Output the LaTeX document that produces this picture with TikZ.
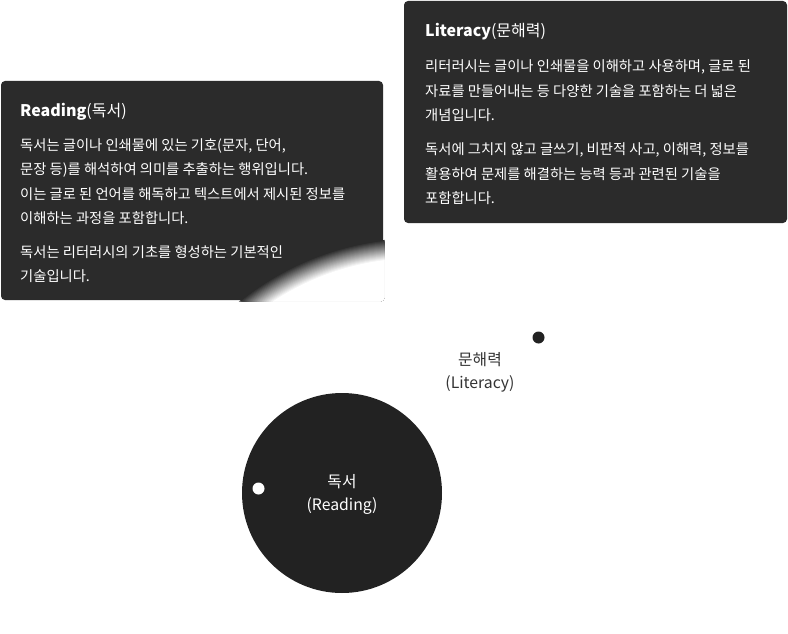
\documentclass[tikz,border=0pt]{standalone}
\usepackage{fontspec}
\setmainfont{Noto Sans CJK KR}
\definecolor{boxcol}{HTML}{2B2B2B}
\definecolor{circcol}{HTML}{222222}
\definecolor{labcol}{HTML}{333333}
\begin{document}
\begin{tikzpicture}[x=1pt,y=-1pt,
  panel/.style={fill=boxcol, rounded corners=4pt},
  ttl/.style={anchor=base west, text=white, font=\fontsize{16}{19}\selectfont, inner sep=0pt},
  bodyline/.style={anchor=base west, text=white, font=\fontsize{14.3}{17}\selectfont, inner sep=0pt},
  dot/.style={circle, inner sep=0pt, minimum size=12pt},
  bigtext/.style={align=center, font=\fontsize{15.8}{23}\selectfont, inner sep=0pt}
]
\useasboundingbox (0,0) rectangle (788,634);

% Reading panel
\path[panel] (1,81) rectangle (383,300);
\begin{scope}
  \clip[rounded corners=4pt] (1,81) rectangle (384.5,301.5);
  \coordinate (gc) at (418,522);
  \foreach \i [evaluate=\i as \p using \i*100/20] in {0,...,20}
    \fill[white!\p!boxcol] (gc) circle[radius=284-\i];
\end{scope}
\node[ttl] (rt) at (20,117) {\textbf{Reading}(독서)};
\node[bodyline] (r1) at (20,150) {독서는 글이나 인쇄물에 있는 기호(문자, 단어,};
\node[bodyline] (r2) at (20,174.5) {문장 등)를 해석하여 의미를 추출하는 행위입니다.};
\node[bodyline] (r3) at (20,199) {이는 글로 된 언어를 해독하고 텍스트에서 제시된 정보를};
\node[bodyline] (r4) at (20,223.5) {이해하는 과정을 포함합니다.};
\node[bodyline] (r5) at (20,257) {독서는 리터러시의 기초를 형성하는 기본적인};
\node[bodyline] (r6) at (20,281.5) {기술입니다.};

% Literacy panel
\path[panel] (404,1) rectangle (787,223);
\node[ttl] (lt) at (425,37) {\textbf{Literacy}(문해력)};
\node[bodyline] (l1) at (425,72) {리터러시는 글이나 인쇄물을 이해하고 사용하며, 글로 된};
\node[bodyline] (l2) at (425,96.5) {자료를 만들어내는 등 다양한 기술을 포함하는 더 넓은};
\node[bodyline] (l3) at (425,121) {개념입니다.};
\node[bodyline] (l4) at (425,154.5) {독서에 그치지 않고 글쓰기, 비판적 사고, 이해력, 정보를};
\node[bodyline] (l5) at (425,179) {활용하여 문제를 해결하는 능력 등과 관련된 기술을};
\node[bodyline] (l6) at (425,203.5) {포함합니다.};

% Reading circle
\node[circle, fill=circcol, minimum size=200pt, inner sep=0pt] (rc) at (342,493) {};
\node[bigtext, text=white] (rcl) at (342,494) {독서\\(Reading)};
\node[dot, fill=white] (wd) at (258.5,488.5) {};

% Literacy marker
\node[dot, fill=circcol] (ld) at (538.5,337.5) {};
\node[bigtext, text=labcol] (lcl) at (480,372) {문해력\\(Literacy)};
\end{tikzpicture}
\end{document}
